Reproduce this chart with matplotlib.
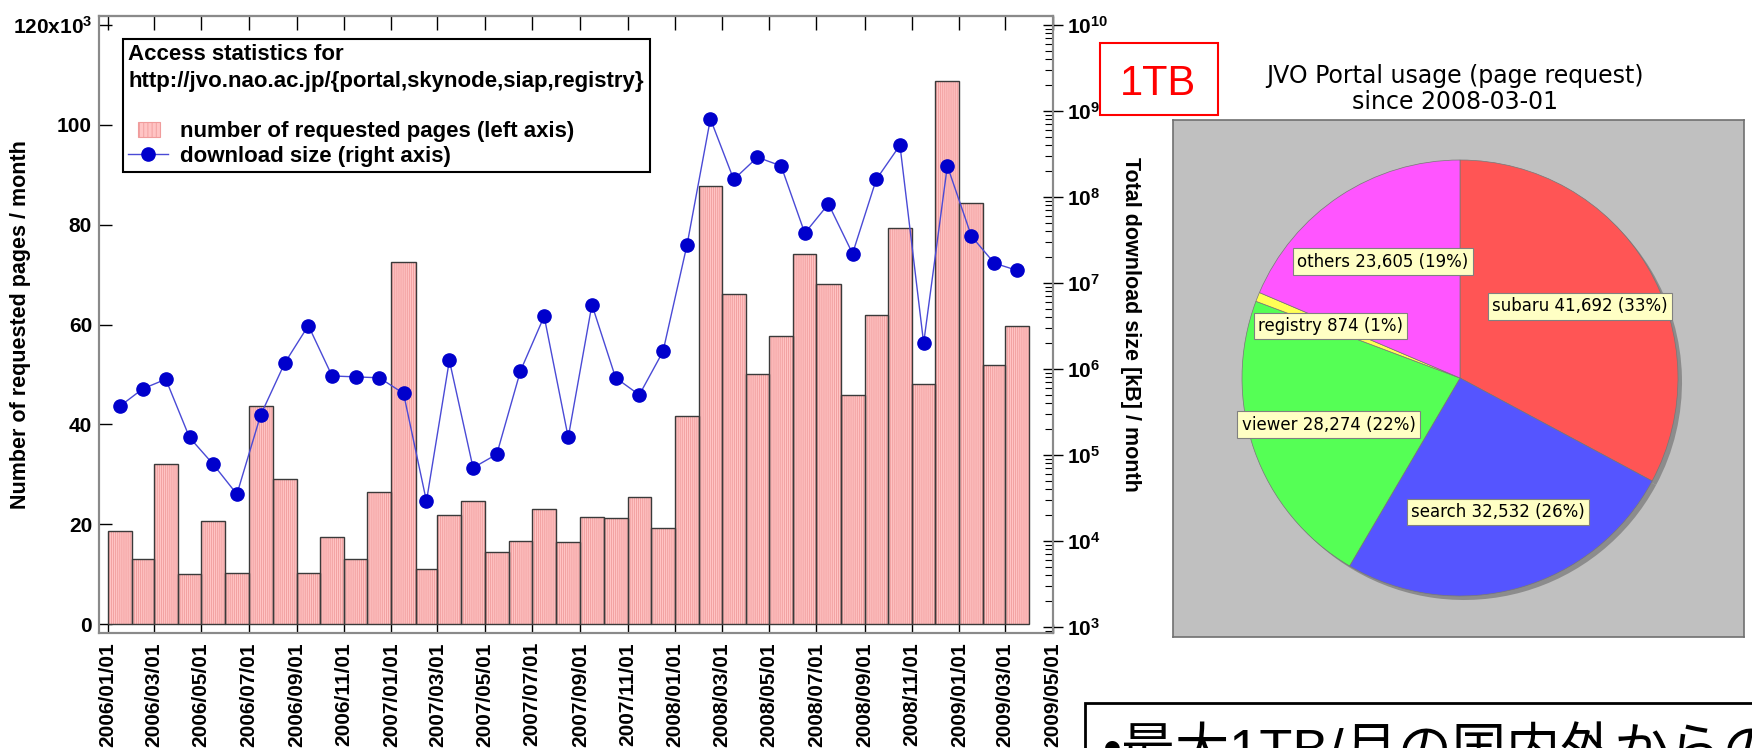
import matplotlib
matplotlib.use("Agg")
import matplotlib.pyplot as plt
import matplotlib.dates as mdates
import matplotlib.ticker as mticker
import numpy as np
import pandas as pd
from matplotlib.patches import Patch, Rectangle
from matplotlib.lines import Line2D
from matplotlib.legend_handler import HandlerPatch

# Monthly access statistics, 2006/01 .. 2009/03
months = pd.date_range("2006-01-01", "2009-03-01", freq="MS")

# number of requested pages per month (x10^3, left axis)
requested_pages_k = [
    18.7, 13.0, 32.1, 10.1, 20.7, 10.3, 43.6, 29.0, 10.3, 17.4, 13.0, 26.5,
    72.6, 11.0, 21.9, 24.6, 14.5, 16.7, 23.1, 16.5, 21.5, 21.3, 25.5, 19.2,
    41.7, 87.8, 66.2, 50.0, 57.6, 74.1, 68.2, 45.8, 61.9, 79.4, 48.0, 108.8,
    84.3, 51.8, 59.6,
]

# total download size per month in kB (right axis, log)
download_kb = [
    3.7e5, 5.9e5, 7.6e5, 1.6e5, 7.8e4, 3.5e4, 2.9e5, 1.17e6, 3.2e6, 8.3e5, 8.1e5, 7.9e5,
    5.2e5, 2.9e4, 1.26e6, 7.1e4, 1.02e5, 9.5e5, 4.1e6, 1.6e5, 5.6e6, 7.9e5, 5.0e5, 1.6e6,
    2.8e7, 8.1e8, 1.6e8, 2.9e8, 2.3e8, 3.8e7, 8.3e7, 2.2e7, 1.6e8, 4.0e8, 2.0e6, 2.3e8,
    3.5e7, 1.7e7, 1.4e7,
]

left_ticks = [0, 20, 40, 60, 80, 100, 120]
tick_months = pd.date_range("2006-01-01", "2009-05-01", freq="2MS")

# JVO portal usage (page request) since 2008-03-01
pie_names = ["subaru", "search", "viewer", "registry", "others"]
pie_counts = [41692, 32532, 28274, 874, 23605]
pie_colors = ["#ff5555", "#5555ff", "#55ff55", "#ffff55", "#ff55ff"]

plt.rcParams["font.family"] = ["Liberation Sans", "DejaVu Sans"]
plt.rcParams["font.weight"] = "bold"
plt.rcParams["axes.labelweight"] = "bold"
plt.rcParams["mathtext.fontset"] = "custom"
plt.rcParams["mathtext.rm"] = "Liberation Sans:bold"
plt.rcParams["mathtext.bf"] = "Liberation Sans:bold"
plt.rcParams["mathtext.it"] = "Liberation Sans:bold"
plt.rcParams["hatch.linewidth"] = 0.6

W, H = 1752, 748
fig = plt.figure(figsize=(W / 100, H / 100), dpi=100)


def fx(x):
    return x / W


def fy(y):
    return 1 - y / H


# ---- bar + line chart ----
ax = fig.add_axes([fx(99), fy(633), (1053 - 99) / W, (633 - 16) / H])

x0 = mdates.date2num(months)
widths = months.days_in_month.to_numpy().astype(float)
bar_face = "#ffc4c4"
bar_hatch = "#f09c9c"

ax.bar(x0, requested_pages_k, width=widths, align="edge", color=bar_face,
       edgecolor=bar_hatch, hatch="|" * 8, linewidth=0, zorder=2)
ax.bar(x0, requested_pages_k, width=widths, align="edge", fill=False,
       edgecolor="#3a3a3a", linewidth=1.0, zorder=3)

ax2 = ax.twinx()
ax2.set_yscale("log")
ax2.plot(x0 + widths / 2, download_kb, color="#4a4ad6", linewidth=1.0,
         marker="o", markersize=9.5, markerfacecolor="#0000cc",
         markeredgecolor="#0000cc", zorder=4)

# x axis
tick_nums = mdates.date2num(tick_months)
ax.set_xlim(tick_nums[0] - 11.5, tick_nums[-1] + 0.5)
ax.set_xticks(tick_nums)
ax.set_xticklabels(tick_months.strftime("%Y/%m/%d"))
ax.tick_params(axis="x", direction="in", length=6.5, width=1, pad=6.5,
               labelsize=15, labelrotation=90)

secx = ax.secondary_xaxis("top")
secx.set_xticks(tick_nums)
secx.tick_params(direction="in", length=10, width=1, labeltop=False)

# left axis
ax.set_ylim(-1.8, 121.8)
ax.set_yticks(left_ticks)
ax.yaxis.set_major_formatter(mticker.FuncFormatter(
    lambda v, _: "120x10$^{3}$" if v == 120 else f"{v:.0f}"))
ax.tick_params(axis="y", direction="in", length=9.5, width=1, pad=5, labelsize=15)
ax.set_ylabel("Number of requested pages / month", fontsize=15.5)
ax.yaxis.set_label_coords(-0.071, 0.5)

# right axis
ax2.set_ylim(10 ** 2.93, 10 ** 10.105)
ax2.yaxis.set_major_locator(mticker.LogLocator(base=10, numticks=20))
ax2.yaxis.set_minor_locator(mticker.LogLocator(base=10, subs=np.arange(2, 10), numticks=20))
ax2.yaxis.set_minor_formatter(mticker.NullFormatter())
ax2.yaxis.set_major_formatter(mticker.FuncFormatter(
    lambda v, _: "10$^{%d}$" % round(np.log10(v))))
ax2.tick_params(axis="y", which="major", direction="inout", length=14, width=1,
                pad=3, labelsize=15)
ax2.tick_params(axis="y", which="minor", direction="in", length=6, width=0.8)
ax2.set_ylabel("Total download size [kB] / month", fontsize=15.5,
               rotation=270, va="bottom")
ax2.yaxis.set_label_coords(1.070, 0.5)

for a in (ax, ax2):
    for s in a.spines.values():
        s.set_color("#8a8a8a")
        s.set_linewidth(1.5)
secx.spines["top"].set_color("#8a8a8a")
secx.spines["top"].set_linewidth(1.5)


# legend with a narrow bar swatch
def narrow_patch(legend, orig_handle, xdescent, ydescent, width, height, fontsize):
    return Rectangle((-xdescent + width * 0.23, -ydescent), width * 0.55, height)


legend_patch = Patch(facecolor=bar_face, edgecolor=bar_hatch, hatch="|" * 4, linewidth=0.8)
legend_line = Line2D([], [], color="#4a4ad6", linewidth=1.0, marker="o",
                     markersize=9.5, markerfacecolor="#0000cc", markeredgecolor="#0000cc")
leg = ax2.legend(
    [legend_patch, legend_line],
    ["number of requested pages (left axis)", "download size (right axis)"],
    title="Access statistics for\nhttp://jvo.nao.ac.jp/{portal,skynode,siap,registry}\n",
    loc="upper left", bbox_to_anchor=(0.025, 0.963), borderaxespad=0,
    fancybox=False, edgecolor="black", framealpha=1, alignment="left",
    prop=dict(family="Liberation Sans", weight="bold", size=16),
    title_fontproperties=dict(family="Liberation Sans", weight="bold", size=16),
    handlelength=1.8, handleheight=0.65, handletextpad=0.5, labelspacing=0.16,
    borderpad=0.25,
    handler_map={Patch: HandlerPatch(patch_func=narrow_patch)},
)
leg.get_title().set_linespacing(1.32)
leg.get_frame().set_linewidth(1.5)
leg.set_zorder(10)

# ---- pie panel ----
axp = fig.add_axes([fx(1173), fy(637), (1744 - 1173) / W, (637 - 120) / H])
axp.set_facecolor("#c0c0c0")
total = sum(pie_counts)
pie_text = [f"{n} {c:,} ({c / total:.0%})" for n, c in zip(pie_names, pie_counts)]

cx, cy, r = 1460, H - 378, 218
axp.pie(pie_counts, colors=["#8c8c8c"] * len(pie_counts), center=(cx + 4, cy - 4),
        radius=r, startangle=90, counterclock=False, frame=True,
        wedgeprops=dict(linewidth=0))
wedges, texts = axp.pie(pie_counts, labels=pie_text, colors=pie_colors,
                        center=(cx, cy), radius=r, startangle=90,
                        counterclock=False, labeldistance=0.64, frame=True,
                        wedgeprops=dict(linewidth=0.5, edgecolor="#777777"))
for t in texts:
    t.set_ha("center")
    t.set_va("center")
    t.set_fontfamily("DejaVu Sans")
    t.set_fontweight("normal")
    t.set_fontsize(12)
    t.set_bbox(dict(boxstyle="square,pad=0.25", facecolor="#ffffc4",
                    edgecolor="#808080", linewidth=0.8))

axp.set_xlim(1173, 1744)
axp.set_ylim(H - 637, H - 120)
axp.set_xticks([])
axp.set_yticks([])
for s in axp.spines.values():
    s.set_color("#707070")
    s.set_linewidth(1.2)

fig.text(fx(1455), fy(89), "JVO Portal usage (page request)\nsince 2008-03-01",
         ha="center", va="center", fontsize=17, family="DejaVu Sans",
         fontweight="normal", linespacing=1.15)

# ---- annotations ----
fig.add_artist(Rectangle((fx(1100), fy(115)), 118 / W, 72 / H, transform=fig.transFigure,
                         fill=False, edgecolor="red", linewidth=1.5))
fig.text(fx(1158), fy(95), "1TB", color="red", fontsize=30, family="Liberation Sans",
         fontweight="normal", ha="center", va="baseline")

fig.add_artist(Rectangle((fx(1085), fy(760)), (1770 - 1085) / W, 57 / H,
                         transform=fig.transFigure, fill=False, edgecolor="black",
                         linewidth=2, clip_on=False))
fig.text(fx(1103), fy(768), "•最大1TB/月の国内外からの", fontsize=39,
         family=["Liberation Sans", "Noto Sans CJK JP"], fontweight="normal",
         ha="left", va="baseline")

fig.savefig("out.png", dpi=100)
